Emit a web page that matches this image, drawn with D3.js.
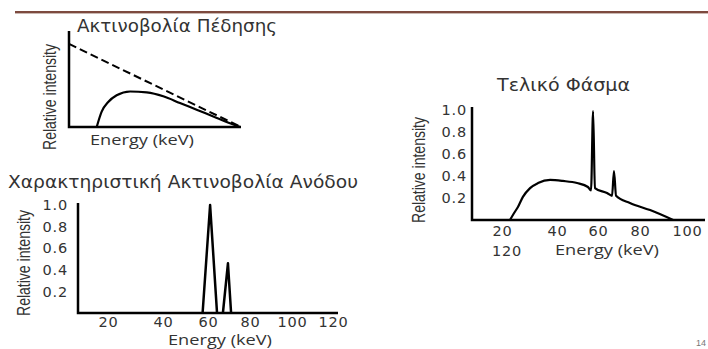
<!DOCTYPE html>
<html>
<head>
<meta charset="utf-8">
<script src="https://d3js.org/d3.v7.min.js"></script>
<style>
  body { margin: 0; background: #fff; }
  text { fill: #333; }
</style>
</head>
<body>
<script>
// ---- data ----
var title1 = 'Ακτινοβολία Πέδησης'
var title2 = 'Χαρακτηριστική Ακτινοβολία Ανόδου'
var title3 = 'Τελικό Φάσμα'
var yLabel = 'Relative intensity'
var xLabel = 'Energy (keV)'
var pageNo = '14'

// bremsstrahlung panel (no ticks)
var bremsTheoryE = [0, 100]
var bremsTheoryI = [0.865, 0]
var bremsE = [16.1, 19, 22.8, 27.7, 35.5, 45.2, 54.8, 64.5, 74.2, 83.9, 93.6, 99.4]
var bremsI = [0, 0.16, 0.26, 0.33, 0.37, 0.36, 0.32, 0.25, 0.18, 0.11, 0.04, 0]

// characteristic panel
var yTicks = [0.2, 0.4, 0.6, 0.8, 1.0]
var xTicks2 = [20, 40, 60, 80, 100, 120]
var peak1E = [57.6, 61, 64.3]
var peak1I = [0, 1.0, 0]
var peak2E = [67.1, 69.5, 71]
var peak2I = [0, 0.46, 0]

// final spectrum panel
var xTicks3 = [20, 40, 60, 80, 100]
var xTicks3Wrapped = ['120']
var finalE = [22.9, 24.4, 25.8, 27.6, 30.2, 33.1, 37.5, 42.9, 49.8, 55.1, 56.6, 57.6, 58.5, 64.3, 66.7, 67.6, 68.6, 75.2, 84.3, 94.1]
var finalI = [0, 0.064, 0.118, 0.21, 0.29, 0.336, 0.364, 0.355, 0.336, 0.3, 0.27, 0.99, 0.29, 0.245, 0.22, 0.445, 0.22, 0.155, 0.09, 0]

var w = 708, h = 349
var svg = d3.select('body').append('svg').attr('width', w).attr('height', h)
svg.append('rect').attr('width', w).attr('height', h).attr('fill', '#fff')

// header rule
svg.append('line').attr('x1', 15).attr('x2', w).attr('y1', 12).attr('y2', 12)
  .attr('stroke', '#7d4a3f').attr('stroke-width', 2)
svg.append('line').attr('x1', 15).attr('x2', w).attr('y1', 13.5).attr('y2', 13.5)
  .attr('stroke', '#cbb8b2').attr('stroke-width', 1)

function zip(es, is) { return es.map(function(e, i) { return {e: e, v: is[i]} }) }

function title(txt, x, y, len) {
  svg.append('text').text(txt).attr('x', x).attr('y', y)
    .attr('font-family', 'DejaVu Sans').attr('font-size', 17)
    .attr('textLength', len).attr('lengthAdjust', 'spacingAndGlyphs')
}
function yTitle(cx, cy) {
  svg.append('text').text(yLabel)
    .attr('transform', 'translate(' + cx + ',' + cy + ') rotate(-90)')
    .attr('text-anchor', 'middle').attr('dy', '0.35em')
    .attr('font-family', 'Liberation Sans Narrow, Liberation Sans').attr('font-size', 18.5)
    .attr('textLength', 106).attr('lengthAdjust', 'spacingAndGlyphs')
}
function xTitle(x, y) {
  svg.append('text').text(xLabel).attr('x', x).attr('y', y)
    .attr('font-family', 'Open Sans').attr('font-size', 14.5)
    .attr('textLength', 104).attr('lengthAdjust', 'spacingAndGlyphs')
}
function axesLines(x0, y0, xEnd, yTop) {
  svg.append('path')
    .attr('d', d3.line()([[x0, yTop], [x0, y0], [xEnd, y0]]))
    .attr('fill', 'none').attr('stroke', '#000').attr('stroke-width', 2.5)
}
function styleAxis(g) {
  g.select('.domain').remove()
  g.selectAll('text').attr('font-family', 'DejaVu Sans').attr('font-size', 14.5)
    .attr('letter-spacing', 0.8).attr('fill', '#333')
}

// ---- panel 1: bremsstrahlung ----
var x1 = d3.scaleLinear().domain([0, 100]).range([69, 241])
var y1 = d3.scaleLinear().domain([0, 1]).range([127, 31])
var line1 = d3.line().x(function(d) { return x1(d.e) }).y(function(d) { return y1(d.v) })

title(title1, 77, 32, 200)
axesLines(x1(0), y1(0), x1(100), y1(1))
svg.append('path').attr('d', line1(zip(bremsTheoryE, bremsTheoryI)))
  .attr('fill', 'none').attr('stroke', '#000').attr('stroke-width', 2).attr('stroke-dasharray', '8,4')
svg.append('path').attr('d', line1.curve(d3.curveMonotoneX)(zip(bremsE, bremsI)))
  .attr('fill', 'none').attr('stroke', '#000').attr('stroke-width', 2.2)
yTitle(50, 97)
xTitle(90, 145)

// ---- panel 2: characteristic ----
var x2 = d3.scaleLinear().domain(xTicks2).range([108, 163, 208, 250, 292, 333])
var y2 = d3.scaleLinear().domain([0, 1]).range([313, 205])
var line2 = d3.line().x(function(d) { return x2(d.e) }).y(function(d) { return y2(d.v) })

title(title2, 8, 188, 350)
axesLines(78, y2(0), 338, 203)
svg.append('g').attr('transform', 'translate(78,0)')
  .call(d3.axisLeft(y2).tickValues(yTicks).tickFormat(d3.format('.1f')).tickSize(0).tickPadding(10))
  .call(styleAxis)
svg.append('g').attr('transform', 'translate(0,' + y2(0) + ')')
  .call(d3.axisBottom(x2).tickValues(xTicks2).tickSize(0).tickPadding(4))
  .call(styleAxis)
;[zip(peak1E, peak1I), zip(peak2E, peak2I)].forEach(function(pk) {
  svg.append('path').attr('d', line2(pk))
    .attr('fill', 'none').attr('stroke', '#000').attr('stroke-width', 2.5).attr('stroke-linejoin', 'round')
})
yTitle(24, 263)
xTitle(168, 345)

// ---- panel 3: final spectrum ----
var x3 = d3.scaleLinear().domain(xTicks3).range([502, 557, 598, 640, 687])
var y3 = d3.scaleLinear().domain([0, 1]).range([220, 110])
var line3 = d3.line().x(function(d) { return x3(d.e) }).y(function(d) { return y3(d.v) })
  .curve(d3.curveMonotoneX)

title(title3, 497, 91, 133)
axesLines(472, y3(0), 705, 107)
svg.append('g').attr('transform', 'translate(472,0)')
  .call(d3.axisLeft(y3).tickValues(yTicks).tickFormat(d3.format('.1f')).tickSize(0).tickPadding(5))
  .call(styleAxis)
svg.append('g').attr('transform', 'translate(0,' + y3(0) + ')')
  .call(d3.axisBottom(x3).tickValues(xTicks3).tickSize(0).tickPadding(6))
  .call(styleAxis)
svg.append('text').text(xTicks3Wrapped[0]).attr('x', x3(20) + 5).attr('y', 256)
  .attr('text-anchor', 'middle').attr('font-family', 'DejaVu Sans').attr('font-size', 14.5)
  .attr('letter-spacing', 0.8)
svg.append('path').attr('d', line3(zip(finalE, finalI)))
  .attr('fill', 'none').attr('stroke', '#000').attr('stroke-width', 2.2).attr('stroke-linejoin', 'round')
yTitle(419, 170)
xTitle(555, 255)

// page number
svg.append('text').text(pageNo).attr('x', 706).attr('y', 346).attr('text-anchor', 'end')
  .attr('font-family', 'Liberation Sans').attr('font-size', 9).style('fill', '#777')
</script>
</body>
</html>
